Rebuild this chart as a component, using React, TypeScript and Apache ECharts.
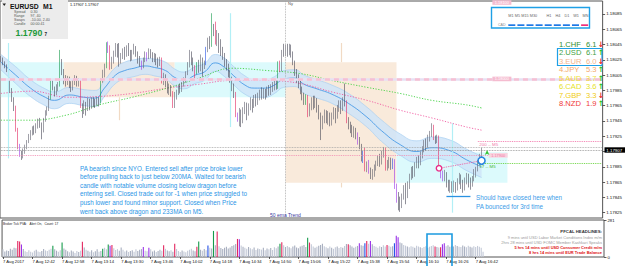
import React, { useEffect, useRef } from "react";
import * as echarts from "echarts";

const FONT = '"Liberation Sans", Arial, sans-serif';

// Prices are stored as pips above BASE to keep the tables short.
const BASE = 1.178;
const PIP = 0.0001;
const START_MINUTE = 12 * 60 + 26;
const SLOT_COUNT = 326;

const firstOpen = 22.3;
const closes = [
  22.6, 22.0, 21.8, 21.2, 19.8, 18.6, 17.5, 16.3, 13.4, 11.2,
  10.2, 10.0, 10.5, 11.0, 11.8, 12.4, 12.9, 13.5, 13.0, 13.8,
  14.5, 14.0, 13.2, 14.6, 15.5, 16.0, 17.5, 19.6, 18.8, 18.2,
  18.9, 19.2, 22.2, 21.0, 20.2, 19.6, 20.0, 19.4, 18.8, 19.5,
  20.1, 19.4, 19.8, 16.5, 15.8, 16.6, 16.0, 17.1, 16.4, 17.2,
  17.0, 16.7, 17.3, 17.0, 19.8, 20.6, 21.6, 24.4, 24.0, 21.6,
  22.4, 23.3, 24.2, 23.4, 22.3, 22.9, 23.6, 23.1, 24.0, 23.5,
  22.8, 23.4, 24.1, 23.5, 22.6, 22.1, 21.6, 22.5, 23.2, 22.8,
  23.6, 23.2, 22.7, 23.1, 22.4, 22.0, 22.6, 19.6, 20.3, 19.4,
  18.6, 18.9, 18.2, 17.0, 17.8, 18.3, 18.9, 18.5, 19.3, 19.8,
  20.6, 21.8, 23.0, 22.4, 21.6, 20.8, 21.9, 21.2, 22.5, 21.8,
  22.0, 23.8, 25.0, 24.4, 26.8, 26.0, 24.7, 25.5, 25.0, 23.6,
  23.0, 22.3, 21.8, 20.8, 20.0, 19.2, 18.0, 15.2, 14.8, 15.6,
  14.5, 15.8, 16.6, 15.7, 16.4, 17.1, 16.5, 17.4, 16.9, 17.7,
  18.2, 17.8, 18.4, 17.9, 18.6, 18.2, 18.8, 19.1, 19.8, 18.9,
  22.0, 21.2, 23.4, 23.3, 24.0, 23.5, 24.1, 23.4, 22.2, 21.0,
  20.2, 19.5, 18.7, 18.0, 16.8, 17.7, 15.3, 16.3, 17.0, 16.4,
  17.3, 16.2, 15.2, 14.0, 14.8, 15.6, 14.8, 15.4, 14.5, 15.2,
  15.9, 15.3, 16.2, 16.8, 16.2, 17.2, 17.0, 14.6, 14.2, 13.6,
  13.0, 13.3, 12.6, 12.0, 11.3, 9.6, 10.3, 8.1, 8.6, 8.0,
  7.4, 7.8, 8.4, 9.0, 9.6, 9.0, 10.1, 10.6, 8.2, 8.8,
  9.4, 8.6, 9.2, 6.0, 4.8, 4.0, 3.6, 4.6, 5.4, 4.8,
  6.0, 7.2, 8.0, 7.5, 8.6, 9.4, 8.9, 10.0, 10.8, 11.6,
  11.2, 12.3, 12.8, 13.9, 12.3, 12.0, 12.4, 8.4, 7.6, 7.0,
  7.7, 6.4, 5.8, 6.3, 5.6, 6.2, 5.7, 6.5, 7.2, 6.4,
  5.8, 6.6, 7.3, 6.7, 6.1, 6.9, 7.6, 8.2, 8.9, 9.8,
  10.7,
];
const highs = [
  23.0, 22.8, 22.3, 21.9, 21.0, 20.0, 18.8, 17.6, 16.5, 13.6,
  11.5, 10.6, 10.9, 11.4, 12.0, 12.8, 13.3, 13.8, 13.9, 14.2,
  14.8, 14.9, 14.3, 14.9, 15.9, 16.4, 17.8, 20.0, 19.8, 19.0,
  19.3, 19.6, 23.8, 22.6, 21.3, 20.5, 20.4, 20.3, 19.7, 19.9,
  20.5, 20.4, 20.1, 20.0, 16.8, 17.2, 17.0, 17.5, 17.4, 17.6,
  17.6, 17.4, 17.7, 17.6, 20.1, 21.2, 22.0, 24.8, 24.9, 24.4,
  22.9, 23.7, 24.7, 24.6, 24.7, 23.4, 24.0, 24.2, 24.4, 24.7,
  23.8, 23.8, 24.6, 24.3, 23.6, 23.0, 22.4, 22.8, 23.6, 23.5,
  24.0, 23.9, 23.5, 23.4, 23.3, 22.8, 22.9, 22.8, 20.8, 20.6,
  19.7, 19.4, 19.2, 18.4, 18.3, 18.6, 19.2, 19.4, 19.6, 20.2,
  21.0, 22.2, 23.8, 23.6, 22.8, 21.8, 22.2, 22.5, 23.2, 22.8,
  22.4, 24.2, 25.4, 25.6, 28.6, 27.2, 27.5, 26.4, 26.0, 25.2,
  24.2, 23.4, 22.6, 22.0, 21.2, 20.3, 19.4, 18.3, 15.6, 16.2,
  16.0, 16.3, 17.0, 16.9, 16.8, 17.6, 17.4, 17.9, 18.0, 18.2,
  18.6, 18.9, 18.8, 18.7, 19.0, 19.2, 19.3, 19.6, 20.0, 20.0,
  22.3, 22.4, 23.8, 24.6, 24.5, 24.6, 24.6, 24.5, 23.6, 22.4,
  21.3, 20.6, 19.8, 19.0, 18.2, 18.0, 17.9, 16.8, 17.6, 17.8,
  17.8, 17.5, 16.6, 15.6, 15.2, 16.0, 15.9, 15.8, 15.6, 15.6,
  16.3, 16.2, 16.6, 17.2, 17.2, 17.6, 19.4, 17.2, 15.0, 14.4,
  14.0, 13.8, 13.6, 13.0, 12.4, 11.5, 10.6, 11.0, 9.2, 9.4,
  8.4, 8.2, 8.8, 9.3, 10.0, 10.2, 10.6, 11.1, 11.0, 9.4,
  9.8, 9.7, 9.6, 9.5, 6.3, 5.2, 4.6, 5.0, 6.1, 6.4,
  6.6, 7.6, 8.5, 8.6, 9.1, 9.8, 10.0, 10.5, 11.2, 12.0,
  12.2, 12.7, 13.2, 14.2, 14.0, 12.6, 12.7, 12.6, 8.6, 8.0,
  8.1, 7.8, 6.8, 6.8, 6.6, 6.7, 6.5, 7.0, 7.7, 7.5,
  6.8, 7.1, 7.7, 7.6, 7.1, 7.3, 8.2, 8.5, 9.4, 10.2,
  11.0,
];
const lows = [
  22.2, 21.8, 21.4, 20.9, 19.5, 18.2, 17.0, 15.8, 13.1, 10.8,
  9.8, 9.4, 9.6, 10.2, 10.8, 11.6, 12.0, 12.6, 12.7, 12.9,
  13.5, 13.6, 12.1, 13.0, 14.4, 15.2, 15.8, 17.3, 18.5, 17.7,
  17.9, 18.4, 19.0, 20.5, 19.3, 19.0, 19.2, 18.8, 18.3, 18.5,
  19.2, 19.0, 19.0, 16.2, 14.9, 15.4, 15.2, 15.8, 15.9, 16.1,
  16.3, 16.2, 16.5, 16.4, 16.8, 19.5, 20.2, 21.4, 23.4, 21.2,
  21.3, 22.0, 22.9, 22.8, 21.6, 22.0, 22.6, 22.5, 22.9, 23.0,
  22.3, 22.4, 23.2, 22.9, 22.0, 21.6, 21.2, 21.4, 22.2, 22.3,
  22.6, 22.7, 22.2, 22.2, 21.8, 21.5, 21.7, 19.4, 19.2, 18.9,
  18.1, 17.9, 17.7, 16.2, 16.2, 17.3, 17.9, 18.1, 18.3, 19.0,
  19.5, 20.5, 21.5, 21.8, 21.0, 20.1, 20.6, 20.8, 21.0, 20.3,
  21.3, 21.8, 23.5, 23.9, 24.2, 25.6, 24.5, 24.3, 23.4, 23.0,
  22.5, 21.6, 21.1, 20.2, 19.5, 18.4, 17.5, 15.0, 14.4, 13.8,
  13.7, 14.2, 15.4, 14.6, 15.2, 15.9, 15.6, 16.2, 16.4, 16.6,
  17.2, 17.3, 17.4, 17.3, 17.6, 17.8, 17.9, 18.3, 18.5, 18.6,
  18.7, 20.9, 21.0, 22.9, 23.0, 22.9, 23.1, 22.8, 21.8, 20.4,
  19.5, 18.8, 18.0, 17.2, 16.6, 16.6, 15.0, 15.1, 15.9, 16.0,
  16.2, 15.6, 14.7, 12.0, 13.4, 14.2, 14.2, 14.0, 13.8, 13.9,
  14.7, 14.2, 14.8, 15.7, 15.4, 15.8, 16.4, 14.2, 13.4, 12.9,
  12.4, 12.3, 12.1, 11.4, 10.8, 9.2, 9.0, 7.9, 7.8, 7.6,
  6.9, 6.8, 7.2, 8.0, 8.6, 8.5, 8.8, 9.7, 8.0, 8.0,
  8.3, 8.1, 8.2, 5.6, 3.8, 2.8, 2.6, 3.1, 4.2, 3.6,
  4.4, 5.6, 6.8, 7.0, 7.2, 8.3, 8.3, 8.7, 9.6, 10.4,
  10.6, 11.0, 11.8, 12.4, 12.0, 11.5, 11.6, 8.1, 7.0, 6.6,
  6.6, 5.8, 5.3, 5.1, 5.1, 5.2, 5.1, 5.4, 6.2, 5.6,
  5.1, 5.4, 6.2, 5.8, 5.5, 5.9, 6.6, 7.1, 7.9, 8.7,
  9.6,
];
const volumes = [
  58, 42, 50, 46, 62, 55, 70, 66, 122, 118,
  95, 60, 44, 38, 52, 40, 35, 48, 56, 42,
  38, 45, 60, 50, 46, 55, 62, 86, 58, 48,
  40, 52, 110, 64, 55, 44, 36, 50, 42, 30,
  46, 38, 48, 115, 72, 55, 47, 40, 52, 36,
  44, 58, 40, 46, 62, 70, 58, 95, 85, 92,
  66, 54, 60, 48, 72, 55, 42, 50, 38, 45,
  52, 40, 58, 46, 55, 60, 75, 48, 44, 70,
  58, 42, 50, 38, 46, 55, 48, 90, 62, 50,
  44, 52, 40, 100, 60, 45, 38, 50, 42, 36,
  48, 55, 62, 50, 44, 78, 118, 56, 48, 60,
  52, 88, 70, 64, 198, 90, 193, 82, 68, 60,
  70, 78, 64, 72, 84, 90, 98, 137, 134, 88,
  78, 70, 62, 76, 66, 58, 72, 54, 64, 60,
  56, 70, 52, 64, 58, 68, 54, 74, 66, 80,
  100, 112, 90, 76, 84, 74, 66, 80, 88, 72,
  66, 80, 86, 92, 76, 147, 110, 96, 80, 70,
  78, 86, 92, 100, 82, 74, 66, 80, 70, 62,
  74, 80, 68, 76, 70, 84, 98, 97, 90, 80,
  70, 78, 84, 105, 90, 86, 105, 122, 100, 122,
  96, 84, 78, 70, 82, 76, 90, 80, 91, 86,
  78, 82, 105, 162, 150, 110, 104, 92, 86, 80,
  74, 82, 78, 70, 86, 80, 74, 68, 76, 82,
  70, 78, 84, 90, 79, 76, 72, 74, 97, 105,
  82, 90, 78, 86, 80, 92, 84, 78, 75, 88,
  80, 74, 86, 78, 72, 82, 76, 84, 78, 70,
  40,
];

// Price-volume analysis highlights (bar indices)
const redBars = [8, 9, 43, 59, 87, 93, 105, 116, 127, 151, 166, 187, 197, 208, 234, 237];
const greenBars = [27, 32, 54, 57, 106, 114, 150, 165];
const blueBars = [111, 196, 212];
const purpleBars = [10, 58, 76, 79, 128, 193, 199, 213, 214, 238, 239];

// Dragon (EMA high / close / low) knots
const dragonIdx = [0, 8, 16, 24, 29, 37, 45, 51, 56, 62, 67, 72, 78, 83, 89, 94, 99, 105, 110, 116, 121, 126, 132, 137, 143, 148, 153, 159, 164, 171, 179, 188, 198, 206, 216, 225, 233, 243, 252, 260];
const dragonMid = [22.2, 20.5, 18.8, 17.6, 17.2, 17.9, 17.6, 17.5, 18.8, 20.5, 21.1, 21.4, 21.7, 21.5, 21.1, 20.2, 19.8, 20.5, 20.9, 22.1, 21.5, 20.4, 19.2, 18.8, 18.8, 19.2, 20.0, 20.1, 19.3, 18.7, 18.0, 16.8, 15.0, 13.2, 11.4, 10.5, 11.0, 10.6, 9.4, 8.5];
const dragonHi = [23.2, 21.6, 19.9, 18.7, 18.3, 18.9, 18.6, 18.5, 19.8, 21.5, 22.2, 22.5, 22.7, 22.6, 22.2, 21.3, 20.9, 21.6, 22.0, 23.2, 22.7, 21.6, 20.4, 19.9, 19.9, 20.3, 21.1, 21.2, 20.5, 19.9, 19.2, 18.1, 16.3, 14.6, 12.8, 11.9, 12.4, 12.0, 10.8, 9.9];
const dragonLo = [21.2, 19.4, 17.7, 16.5, 16.1, 16.8, 16.5, 16.4, 17.7, 19.4, 20.0, 20.3, 20.6, 20.4, 20.0, 19.1, 18.7, 19.4, 19.8, 21.0, 20.3, 19.2, 18.0, 17.6, 17.6, 18.1, 18.9, 19.0, 18.1, 17.5, 16.8, 15.5, 13.7, 11.8, 10.0, 9.1, 9.6, 9.2, 8.0, 7.1];

// Slow moving averages (dotted)
const maIdx = [0, 17, 36, 53, 71, 90, 107, 125, 144, 162, 179, 198, 216, 233, 252, 260];
const maGreen = [14.6, 14.6, 15.3, 16.6, 17.6, 18.8, 20.1, 21.4, 21.1, 20.7, 19.8, 18.9, 18.1, 17.2, 16.6, 16.2];
const maPink = [18.1, 18.4, 17.6, 17.7, 18.1, 18.8, 19.3, 19.8, 19.8, 19.4, 18.3, 17.2, 15.9, 14.9, 13.7, 13.3];

// Session boxes
const sessionStart = [0, 34, 94, 154, 214];
const sessionEnd = [34, 94, 154, 214, 274];
const sessionTop = [22.2, 22.2, 22.2, 22.2, 10.4];
const sessionBottom = [17.6, 17.6, 17.6, 6.4, 6.4];
const sessionColor = ["#dcfafc", "#f9eadb", "#dcfafc", "#f9eadb", "#dcfafc"];
// Session range markers: [bar, from, to, colour]
const sessionRanges: [number, number, number, string][] = [
  [4, 24.7, 9.6, "#b2eff6"],
  [64, 17.6, 14.6, "#f1dac4"],
  [124, 28.6, 13.7, "#b2eff6"],
  [184, 24.7, 22.2, "#f1dac4"],
  [184, 6.4, 5.8, "#f1dac4"],
  [244, 14.2, 2.5, "#b2eff6"],
];
const nyOpenBar = 154;

const yTickValues = [1.17825, 1.17845, 1.17865, 1.17885, 1.17905, 1.17925, 1.17945, 1.17965, 1.17985, 1.18005, 1.18025, 1.18045, 1.18065, 1.18085];
const yLabelValues = [1.17825, 1.17845, 1.17865, 1.17885, 1.17925, 1.17945, 1.17965, 1.17985, 1.18005, 1.18025, 1.18045, 1.18065, 1.18085];

const bid = 1.17907;
const ask = 1.1791;
const roundLevels = [1.181, 1.18];
const level1179 = 1.179;
const m5Ema200 = 1.17919;
const m5Ema17 = 1.1789;
const entryBar = 237;
const entryPrice = 1.17883;
const exitBar = 260;
const exitPrice = 1.17893;
const supportFrom = 241;
const supportTo = 254;
const supportPrice = 1.17846;

const currencies = ["CHF", "USD", "EUR", "JPY", "AUD", "CAD", "GBP", "NZD"];
const strengths = [6.1, 6.1, 6.0, 5.3, 3.7, 3.6, 3.3, 1.9];
const strengthColors = ["#2f8f2f", "#3f9f3f", "#f2b48c", "#f3a86c", "#f0df3a", "#e6e21e", "#f0cc10", "#f03a3a"];
const momentumUp = [false, true, false, true, true, true, false, true];

const timeframes = ["M1", "M5", "M15", "M30", "H1", "H4", "D1", "W1", "MN"];

const headlines = [
  "9 mins until USD Labor Market Conditions Index m/m",
  "2hrs 28 mins until USD FOMC Member Kashkari Speaks",
  "5 hrs 14 mins until USD Consumer Credit m/m",
  "8 hrs 14 mins until EUR Trade Balance",
];
const headlineHot = [false, false, true, true];

const noteLines = [
  "PA bearish since NYO. Entered sell after price broke lower",
  "before pulling back to just below 200MA. Waited for bearish",
  "candle with notable volume closing below dragon before",
  "entering sell. Closed trade out for -1 when price struggled to",
  "push lower and found minor support. Closed when Price",
  "went back above dragon and 233MA on M5.",
];

const px = (v: number) => +(BASE + v * PIP).toFixed(5);

const times = Array.from({ length: SLOT_COUNT }, (_, i) => {
  const m = START_MINUTE + i;
  return `${String(Math.floor(m / 60)).padStart(2, "0")}:${String(m % 60).padStart(2, "0")}`;
});

const PVA = { red: "#e3265f", green: "#169b4b", blue: "#2450e6", purple: "#9a34e8" };

function pvaColour(i: number): string | null {
  if (redBars.includes(i)) return PVA.red;
  if (greenBars.includes(i)) return PVA.green;
  if (blueBars.includes(i)) return PVA.blue;
  if (purpleBars.includes(i)) return PVA.purple;
  return null;
}

const txt = (text: string, x: number, y: number, size: number, fill: string, extra: any = {}, z = 50) => ({
  type: "text", x, y, z, silent: true,
  style: { text, fontSize: size, fontFamily: FONT, fill, align: "left", verticalAlign: "middle", ...extra },
});

function buildOption() {
  const candles = closes.map((c, i) => {
    const o = i === 0 ? firstOpen : closes[i - 1];
    const h = Math.max(highs[i], o, c);
    const l = Math.min(lows[i], o, c);
    const special = pvaColour(i);
    const bull = c >= o;
    const body = special || (bull ? "#9d9daa" : "#51515f");
    const edge = special || (bull ? "#62626f" : "#474756");
    return {
      value: [px(o), px(c), px(l), px(h)],
      itemStyle: { color: body, color0: body, borderColor: edge, borderColor0: edge },
    };
  });

  const vols = volumes.map((v, i) => {
    const o = i === 0 ? firstOpen : closes[i - 1];
    const special = pvaColour(i);
    return { value: v, itemStyle: { color: special || (closes[i] >= o ? "#c3c9d7" : "#a7aebf") } };
  });

  const knots = (idx: number[], vals: number[]) => idx.map((b, k) => [times[b], px(vals[k])]);

  const sessionAreas = sessionStart.map((s, k) => [
    { xAxis: times[s], yAxis: px(sessionBottom[k]), itemStyle: { color: sessionColor[k] } },
    { xAxis: times[sessionEnd[k]], yAxis: px(sessionTop[k]) },
  ]);

  const rangeLines: any[] = sessionRanges.map(([b, a, z, col]) => [
    { coord: [times[b], px(a)], lineStyle: { color: col, width: 1.2, type: "solid" } },
    { coord: [times[b], px(z)] },
  ]);
  rangeLines.push({ xAxis: times[nyOpenBar], lineStyle: { color: "#a3a3a3", width: 0.8, type: "dotted" } });

  const seg = (b0: number, v0: number, b1: number, v1: number, lineStyle: any, label?: any) => [
    { coord: [times[b0], v0], lineStyle, label: label || { show: false } },
    { coord: [times[b1], v1] },
  ];
  const full = (v: number, lineStyle: any) => seg(0, v, SLOT_COUNT - 1, v, lineStyle);

  const priceLines: any[] = [
    full(roundLevels[1], { color: "#e6e1f3", width: 2.6, type: "solid" }),
    full(roundLevels[1], { color: "#f6c0d3", width: 2.6, type: [5, 4] }),
    full(ask, { color: "#a0a0a0", width: 0.8, type: "dotted" }),
    full(bid, { color: "#8a8a8a", width: 0.8, type: "dotted" }),
    seg(0, level1179, 272, level1179, { color: "#f28db2", width: 0.9, type: "dotted" }),
    seg(258, m5Ema200, SLOT_COUNT - 1, m5Ema200, { color: "#f06ea6", width: 0.9, type: "dotted" }, {
      show: true, position: "insideStartBottom", formatter: "200 -- M5", color: "#f07aaa", fontSize: 4.4, fontFamily: FONT, distance: 1.5,
    }),
    seg(258, m5Ema17, SLOT_COUNT - 1, m5Ema17, { color: "#5ccf2e", width: 0.9, type: "dotted" }, {
      show: true, position: "insideStartBottom", formatter: "17 -- M5", color: "#46b82a", fontSize: 4.4, fontFamily: FONT, distance: 1.5,
    }),
    seg(entryBar, entryPrice, exitBar, exitPrice, { color: "#ef4f9a", width: 0.9, type: "dotted" }),
    seg(supportFrom, supportPrice, supportTo, supportPrice, { color: "#2a92e2", width: 1.3, type: "solid" }),
  ];

  const levelTag = (bar: number, value: number, text: string, fill: string, ink: string) => ({
    coord: [times[bar], value],
    symbol: "rect",
    symbolSize: [19, 4.6],
    itemStyle: { color: fill },
    label: { show: true, position: "inside", formatter: text, color: ink, fontSize: 3.9, fontFamily: FONT },
  });

  const markPoints = [
    levelTag(271, roundLevels[1], "1.18000", "#f5bcd0", "#ffffff"),
    levelTag(271, roundLevels[0], "1.18100", "#f5bcd0", "#ffffff"),
    levelTag(269, level1179, "1.17900", "#fad3df", "#f07aa5"),
    {
      coord: [times[entryBar], entryPrice], symbol: "circle", symbolSize: 5.5,
      itemStyle: { color: "#ffffff", borderColor: "#e8308a", borderWidth: 1.4 }, label: { show: false },
    },
    {
      coord: [times[exitBar], exitPrice], symbol: "circle", symbolSize: 7,
      itemStyle: { color: "#ffffff", borderColor: "#2a86e0", borderWidth: 1.6 }, label: { show: false },
    },
    {
      coord: [times[263], bid], symbol: "arrow", symbolSize: [3.5, 5],
      itemStyle: { color: "#36c536" }, label: { show: false },
    },
  ];

  const graphics: any[] = [
    // symbol info panel
    { type: "rect", z: 40, silent: true, shape: { x: 2, y: 0, width: 66, height: 39 }, style: { fill: "#ececec" } },
    { type: "polygon", z: 50, silent: true, shape: { points: [[2.5, 3.5], [6, 3.5], [4.25, 6]] }, style: { fill: "#222" } },
    txt("EURUSD", 10, 6, 6.8, "#111", { fontWeight: "bold" }),
    txt("M1", 43, 6, 6.8, "#111", { fontWeight: "bold" }),
    txt("Spread", 14, 11.5, 3.6, "#555"),
    txt("0.30", 30.5, 11.5, 3.6, "#555"),
    txt("Range", 14, 15.5, 3.6, "#555"),
    txt("97, 40", 30.5, 15.5, 3.6, "#555"),
    txt("Swaps", 14, 19.5, 3.6, "#555"),
    txt("-10.00, 2.40", 30.5, 19.5, 3.6, "#555"),
    txt("Candle", 14, 23.5, 3.6, "#555"),
    txt("00:00:41", 30.5, 23.5, 3.6, "#555"),
    txt("1.1790", 15.5, 33, 8.8, "#1e9a3c", { fontWeight: "bold" }),
    txt("7", 44.5, 34.5, 4.6, "#222", { fontWeight: "bold" }),
    txt("1.17907 1.17907", 70, 4.5, 3.8, "#111"),
    txt("Ny", 288, 3.8, 4, "#555"),
    // timeframe selector
    { type: "rect", z: 40, silent: true, shape: { x: 491.5, y: 7.5, width: 98, height: 20.5 }, style: { fill: "#fff", stroke: "#1ea0e6", lineWidth: 1.4 } },
    txt("CAD", 498, 25, 3.6, "#888"),
  ];
  const tfX = [511, 517.5, 525, 533.5, 549, 558, 567, 576, 585.5];
  timeframes.forEach((tf, k) => {
    graphics.push(txt(tf, tfX[k], 16, 3.8, "#666", { align: "center" }));
    graphics.push({
      type: "rect", z: 50, silent: true,
      shape: { x: 508.3 + k * 9.1, y: 24.3, width: 7, height: 1.7 },
      style: { fill: k === timeframes.length - 1 ? "#f0307a" : "#1e78e6" },
    });
  });
  // currency strength list
  currencies.forEach((c, k) => {
    const y = 44 + k * 8.55;
    graphics.push(txt(`${k + 1}.${c}`, 559, y, 7.6, strengthColors[k]));
    graphics.push(txt(strengths[k].toFixed(1), 596.5, y, 7.6, strengthColors[k], { align: "right" }));
    graphics.push(txt(momentumUp[k] ? "↑" : "↓", 601, y, 7.5, momentumUp[k] ? "#22c422" : "#e82020", {
      align: "center", fontWeight: "bold", fontFamily: '"DejaVu Sans", sans-serif',
    }));
  });
  graphics.push({ type: "rect", z: 45, silent: true, shape: { x: 557.5, y: 48.5, width: 44.5, height: 17 }, style: { fill: "none", stroke: "#1ea0e6", lineWidth: 1.2 } });
  // notes
  graphics.push(txt(noteLines.join("\n"), 80, 189.5, 6.3, "#2a95e6", { lineHeight: 8.6 }));
  graphics.push(txt("Should have closed here when\nPA bounced for 3rd time", 476, 201.5, 6.3, "#3a9be8", { lineHeight: 9, fontWeight: 500 }));
  graphics.push(txt("50 ema Trend", 270, 214.5, 5, "#3a3aa0"));
  // volume pane texts
  graphics.push(txt("Broker Tick PVA:", 3, 224, 3.2, "#222"));
  graphics.push(txt("Alert On,", 29.5, 224, 3.2, "#222"));
  graphics.push(txt("Count: 17", 44.5, 224, 3.2, "#222"));
  graphics.push(txt("PFCAL HEADLINES:", 602, 231.5, 4.3, "#333", { align: "right", fontWeight: "bold" }));
  headlines.forEach((h, k) => {
    graphics.push(txt(h, 602, 237.5 + k * 4.95, 4.0, headlineHot[k] ? "#e01414" : "#9a9a9a", {
      align: "right", fontWeight: headlineHot[k] ? "bold" : "normal",
    }));
  });
  graphics.push({ type: "rect", z: 45, silent: true, shape: { x: 427, y: 234, width: 25, height: 36 }, style: { fill: "none", stroke: "#1d9be0", lineWidth: 1.6 } });

  const lastBar = closes.length - 1;

  return {
    animation: false,
    backgroundColor: "#ffffff",
    textStyle: { fontFamily: FONT },
    grid: [
      { left: 0, right: 21, top: 1, height: 217, show: true, borderColor: "#555", borderWidth: 1 },
      { left: 0, right: 21, top: 220, height: 37, show: true, borderColor: "#555", borderWidth: 1 },
    ],
    xAxis: [
      {
        type: "category", gridIndex: 0, data: times, boundaryGap: true,
        axisLine: { show: false }, axisTick: { show: false }, axisLabel: { show: false }, splitLine: { show: false },
      },
      {
        type: "category", gridIndex: 1, data: times, boundaryGap: true,
        axisLine: { show: false },
        axisTick: {
          show: true, alignWithLabel: true, length: 2, lineStyle: { color: "#333", width: 0.8 },
          interval: (i: number) => i % 16 === 0 && i <= lastBar,
        },
        axisLabel: {
          fontSize: 4.2, color: "#111", align: "left", margin: 2.5,
          interval: (i: number) => i % 16 === 0 && i <= lastBar,
          formatter: (v: string, i: number) => (i === 0 ? "7 Aug 2017" : `7 Aug ${v}`),
        },
        splitLine: { show: false },
      },
    ],
    yAxis: [
      {
        type: "value", gridIndex: 0, position: "right", min: 1.17818, max: 1.18102,
        splitLine: { show: false }, axisLine: { show: false },
        axisTick: { show: true, length: 2.5, customValues: yTickValues, lineStyle: { color: "#333", width: 0.8 } },
        axisLabel: { customValues: yLabelValues, fontSize: 4.4, color: "#111", margin: 3.5, formatter: (v: number) => v.toFixed(5) },
      },
      {
        type: "value", gridIndex: 1, position: "right", min: 0, max: 281,
        splitLine: { show: false }, axisLine: { show: false },
        axisTick: { show: true, length: 2.5, customValues: [0, 281], lineStyle: { color: "#333", width: 0.8 } },
        axisLabel: { customValues: [0, 281], fontSize: 4.2, color: "#111", margin: 3.5 },
      },
    ],
    series: [
      {
        type: "line", name: "sessions", data: [], z: 0, silent: true,
        markArea: { silent: true, data: sessionAreas },
        markLine: { silent: true, precision: 5, symbol: ["none", "none"], label: { show: false }, data: rangeLines },
      },
      {
        type: "line", name: "dragonBase", data: knots(dragonIdx, dragonLo), stack: "dragon", smooth: 0.5,
        symbol: "none", silent: true, z: 1, lineStyle: { opacity: 0 },
      },
      {
        type: "line", name: "dragonBand", stack: "dragon", smooth: 0.5, symbol: "none", silent: true, z: 1,
        data: dragonIdx.map((b, k) => [times[b], +((dragonHi[k] - dragonLo[k]) * PIP).toFixed(6)]),
        lineStyle: { opacity: 0 }, areaStyle: { color: "#cfe4f8", opacity: 0.85 },
      },
      {
        type: "line", name: "dragonHigh", data: knots(dragonIdx, dragonHi), smooth: 0.5, symbol: "none", silent: true, z: 2,
        lineStyle: { color: "#a9d0f2", width: 0.7 },
      },
      {
        type: "line", name: "dragonLow", data: knots(dragonIdx, dragonLo), smooth: 0.5, symbol: "none", silent: true, z: 2,
        lineStyle: { color: "#a9d0f2", width: 0.7 },
      },
      {
        type: "line", name: "dragonMid", data: knots(dragonIdx, dragonMid), smooth: 0.5, symbol: "none", silent: true, z: 2,
        lineStyle: { color: "#4a9be6", width: 0.9 },
      },
      {
        type: "line", name: "ma233", data: knots(maIdx, maPink), smooth: 0.4, symbol: "none", silent: true, z: 2,
        lineStyle: { color: "#f05aa0", width: 0.9, type: [1.2, 1.6] },
      },
      {
        type: "line", name: "ma200", data: knots(maIdx, maGreen), smooth: 0.4, symbol: "none", silent: true, z: 2,
        lineStyle: { color: "#3fd03f", width: 0.9, type: [1.2, 1.6] },
      },
      {
        type: "candlestick", name: "EURUSD", data: candles, barWidth: 1.3, z: 3, silent: true,
        itemStyle: { borderWidth: 0.6 },
        markLine: { silent: true, precision: 5, symbol: ["none", "none"], label: { show: false }, data: priceLines },
        markPoint: { silent: true, data: markPoints },
      },
      {
        type: "bar", name: "volume", xAxisIndex: 1, yAxisIndex: 1, data: vols, barWidth: 1.1, silent: true,
      },
    ],
    graphic: { elements: graphics },
  };
}

export default function App() {
  const ref = useRef<HTMLDivElement>(null);
  useEffect(() => {
    if (!ref.current) return;
    const chart = echarts.init(ref.current, null, { renderer: "svg", width: 625, height: 266 });
    const option: any = buildOption();
    chart.setOption(option);
    // current bid tag on the price scale, placed through the axis' own scale
    const y = chart.convertToPixel({ yAxisIndex: 0 }, bid) as number;
    option.graphic.elements.push(
      { type: "rect", z: 60, silent: true, shape: { x: 604.5, y: y - 2.7, width: 20.5, height: 5.4 }, style: { fill: "#000" } },
      txt(bid.toFixed(5), 606.3, y + 0.2, 4.4, "#ffffff", {}, 70)
    );
    chart.setOption({ graphic: option.graphic });
    return () => chart.dispose();
  }, []);
  return (
    <div
      ref={ref}
      style={{ position: "fixed", left: 0, top: 0, width: 625, height: 266, background: "#fff" }}
    />
  );
}
